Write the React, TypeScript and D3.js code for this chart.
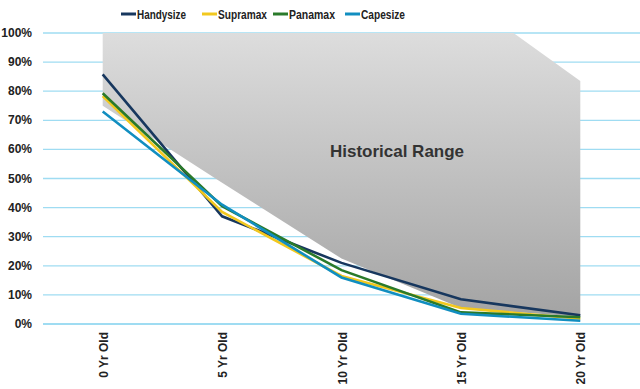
import { useEffect, useRef } from 'react'
import * as d3 from 'd3'

const categories = ['0 Yr Old', '5 Yr Old', '10 Yr Old', '15 Yr Old', '20 Yr Old']
const rangeHigh = [100, 100, 100, 113, 83.5]
const rangeLow = [75, 48.5, 22.5, 5.5, 2.5]
const handysize = [85.8, 37, 21, 8.5, 3]
const supramax = [78.3, 38.5, 16.5, 5.5, 1.8]
const panamax = [79.3, 40.5, 18.5, 4, 2.3]
const capesize = [73, 41, 16, 3.5, 1.1]
const yTicks = [0, 10, 20, 30, 40, 50, 60, 70, 80, 90, 100]

const series = [
  { name: 'Handysize', values: handysize, color: '#17375e' },
  { name: 'Supramax', values: supramax, color: '#f2c81e' },
  { name: 'Panamax', values: panamax, color: '#2a7a2a' },
  { name: 'Capesize', values: capesize, color: '#118ec0' },
]

const W = 640
const H = 389

export default function App() {
  const svgRef = useRef<SVGSVGElement>(null)

  useEffect(() => {
    if (!svgRef.current) return
    const svg = d3.select(svgRef.current)
    svg.selectAll('*').remove()

    const left = 43, right = 640, top = 33, bottom = 324
    const x = d3.scaleBand<string>().domain(categories).range([left, right])
    const cx = (i: number) => (x(categories[i]) as number) + x.bandwidth() / 2
    const y = d3.scaleLinear().domain([0, 100]).range([bottom, top])
    const font = 'Liberation Sans, Arial, sans-serif'

    const defs = svg.append('defs')
    const grad = defs.append('linearGradient').attr('id', 'rangeGrad')
      .attr('gradientUnits', 'userSpaceOnUse')
      .attr('x1', 0).attr('y1', top).attr('x2', 0).attr('y2', bottom)
    grad.append('stop').attr('offset', '0%').attr('stop-color', '#dddddd')
    grad.append('stop').attr('offset', '100%').attr('stop-color', '#a2a2a2')
    defs.append('clipPath').attr('id', 'plotClip')
      .append('rect').attr('x', left).attr('y', top).attr('width', right - left).attr('height', bottom - top)

    // gridlines
    svg.append('g').selectAll('line').data(yTicks).enter().append('line')
      .attr('x1', left).attr('x2', right)
      .attr('y1', d => y(d)).attr('y2', d => y(d))
      .attr('stroke', '#9fdcf2').attr('stroke-width', d => d === 0 ? 2 : 1.3)

    // historical range
    const area = d3.area<number>()
      .x((_, i) => cx(i))
      .y0((_, i) => y(rangeLow[i]))
      .y1(d => y(d))
    svg.append('path').datum(rangeHigh)
      .attr('d', area)
      .attr('fill', 'url(#rangeGrad)')
      .attr('clip-path', 'url(#plotClip)')

    svg.append('text')
      .attr('x', 397).attr('y', 157)
      .attr('text-anchor', 'middle')
      .attr('font-family', font).attr('font-weight', 'bold').attr('font-size', 17)
      .attr('fill', '#333333')
      .text('Historical Range')

    // lines
    const line = d3.line<number>().x((_, i) => cx(i)).y(d => y(d))
    series.forEach(s => {
      svg.append('path').datum(s.values)
        .attr('d', line)
        .attr('fill', 'none')
        .attr('stroke', s.color)
        .attr('stroke-width', 2.6)
    })

    // y labels
    svg.append('g').selectAll('text').data(yTicks).enter().append('text')
      .attr('x', 32).attr('y', d => y(d) + 4)
      .attr('text-anchor', 'end')
      .attr('font-family', font).attr('font-weight', 'bold').attr('font-size', 12)
      .attr('fill', '#222')
      .text(d => d + '%')

    // x labels
    svg.append('g').selectAll('text').data(categories).enter().append('text')
      .attr('transform', (_, i) => `translate(${cx(i) + 5},332) rotate(-90)`)
      .attr('text-anchor', 'end')
      .attr('font-family', font).attr('font-weight', 'bold').attr('font-size', 12)
      .attr('fill', '#222')
      .text(d => d)

    // legend (narrow bold text)
    const legendX = [121, 202, 273, 345]
    const legendW = [49, 49, 46, 44]
    const lg = svg.append('g')
    series.forEach((s, i) => {
      lg.append('line')
        .attr('x1', legendX[i]).attr('x2', legendX[i] + 15)
        .attr('y1', 14).attr('y2', 14)
        .attr('stroke', s.color).attr('stroke-width', 3)
      lg.append('text')
        .attr('x', legendX[i] + 16).attr('y', 18.5)
        .attr('font-family', font).attr('font-weight', 'bold').attr('font-size', 12)
        .attr('textLength', legendW[i]).attr('lengthAdjust', 'spacingAndGlyphs')
        .attr('fill', '#222')
        .text(s.name)
    })
  }, [])

  return (
    <svg ref={svgRef} width={W} height={H}
      style={{ position: 'absolute', left: 0, top: 0, background: '#fff' }} />
  )
}
